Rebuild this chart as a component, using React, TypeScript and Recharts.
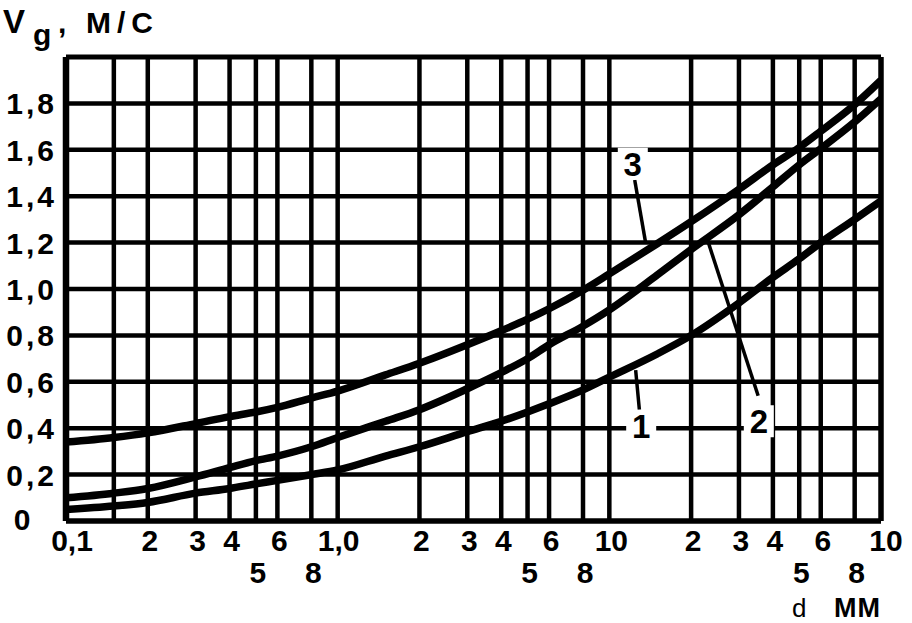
import React from "react";
import { LineChart, Line, XAxis, YAxis, ReferenceLine, ReferenceDot } from "recharts";

// d, мм (log axis) and the three curves V_g, м/с
const dValues = [0.1, 0.15, 0.2, 0.3, 0.4, 0.5, 0.6, 0.8, 1, 1.5, 2, 3, 4, 5, 6, 8, 10, 15, 20, 30, 40, 50, 60, 80, 100];
const curve1 = [0.05, 0.065, 0.08, 0.12, 0.14, 0.16, 0.175, 0.2, 0.22, 0.28, 0.32, 0.385, 0.43, 0.47, 0.505, 0.565, 0.62, 0.72, 0.8, 0.94, 1.05, 1.13, 1.2, 1.3, 1.38];
const curve2 = [0.1, 0.12, 0.14, 0.19, 0.23, 0.26, 0.28, 0.32, 0.36, 0.43, 0.48, 0.57, 0.64, 0.7, 0.76, 0.84, 0.91, 1.06, 1.17, 1.32, 1.44, 1.535, 1.605, 1.72, 1.82];
const curve3 = [0.34, 0.36, 0.38, 0.42, 0.45, 0.47, 0.49, 0.53, 0.56, 0.63, 0.68, 0.76, 0.82, 0.87, 0.915, 0.995, 1.065, 1.195, 1.29, 1.43, 1.535, 1.61, 1.68, 1.795, 1.9];

const xTicks = [0.1, 0.2, 0.3, 0.4, 0.5, 0.6, 0.8, 1, 2, 3, 4, 5, 6, 8, 10, 20, 30, 40, 50, 60, 80, 100];
const xLowRow = [0.5, 0.8, 5, 8, 50, 80];
const xGrid = [0.15, 0.2, 0.3, 0.4, 0.5, 0.6, 0.8, 1, 2, 3, 4, 5, 6, 8, 10, 20, 30, 40, 50, 60, 80];
const yTicks = [0, 0.2, 0.4, 0.6, 0.8, 1.0, 1.2, 1.4, 1.6, 1.8];
const yGrid = [0.2, 0.4, 0.6, 0.8, 1.0, 1.2, 1.4, 1.6, 1.8];

// curve labels and their leader lines
const curveLabels = [
  { text: "3", d: 12.2, v: 1.54 },
  { text: "1", d: 13.1, v: 0.41 },
  { text: "2", d: 35.5, v: 0.43 },
];
const leaders = [
  [{ x: 12.4, y: 1.47 }, { x: 13.6, y: 1.2 }],
  [{ x: 12.5, y: 0.65 }, { x: 12.9, y: 0.48 }],
  [{ x: 23, y: 1.21 }, { x: 35.3, y: 0.54 }],
];

const FONT = '"Liberation Sans", Arial, sans-serif';

const xLabel = (v: number) => {
  if (v === 0.1) return "0,1";
  if (v === 1) return "1,0";
  if (v === 10 || v === 100) return "10";
  return String(Math.round(v / Math.pow(10, Math.floor(Math.log10(v)))));
};

const XTick = (p: any) => {
  const v = p.payload.value;
  const low = xLowRow.includes(v);
  const dx = v === 0.1 ? 6 : v === 1 ? 1 : v === 100 ? 5 : 2;
  return (
    <text x={p.x + dx} y={low ? 583 : 551} textAnchor="middle" fontFamily={FONT} fontWeight={700} fontSize={30} fill="#000">
      {xLabel(v)}
    </text>
  );
};

const YTick = (p: any) => {
  const v = p.payload.value;
  if (v === 0) {
    return (
      <text x={22} y={p.y + 9} textAnchor="middle" fontFamily={FONT} fontWeight={700} fontSize={30} fill="#000">0</text>
    );
  }
  return (
    <text x={57} y={p.y + 11} textAnchor="end" fontFamily={FONT} fontWeight={700} fontSize={30} letterSpacing={3} fill="#000">
      {v.toFixed(1).replace(".", ",")}
    </text>
  );
};

export default function App() {
  const data = dValues.map((d, i) => ({ d, c1: curve1[i], c2: curve2[i], c3: curve3[i] }));

  return (
    <div style={{ position: "absolute", left: 0, top: 0, width: 912, height: 623, background: "#fff" }}>
      <LineChart width={912} height={623} data={data} margin={{ top: 57, right: 31, bottom: 22, left: 6 }}>
        <XAxis
          dataKey="d"
          type="number"
          scale="log"
          domain={[0.1, 100]}
          allowDataOverflow
          ticks={xTicks}
          interval={0}
          height={80}
          tick={XTick}
          tickLine={false}
          axisLine={{ stroke: "#000", strokeWidth: 5.5 }}
        />
        <YAxis
          type="number"
          domain={[0, 2]}
          ticks={yTicks}
          interval={0}
          width={60}
          tick={YTick}
          tickLine={false}
          axisLine={{ stroke: "#000", strokeWidth: 6.5 }}
        />
        {xGrid.map((v) => (
          <ReferenceLine key={"x" + v} x={v} stroke="#000" strokeWidth={4.5} />
        ))}
        {yGrid.map((v) => (
          <ReferenceLine key={"y" + v} y={v} stroke="#000" strokeWidth={4.5} />
        ))}
        <ReferenceLine x={100} stroke="#000" strokeWidth={5.5} />
        <ReferenceLine y={2} stroke="#000" strokeWidth={5} />

        <Line type="monotone" dataKey="c1" stroke="#000" strokeWidth={7.5} dot={false} isAnimationActive={false} />
        <Line type="monotone" dataKey="c2" stroke="#000" strokeWidth={7.5} dot={false} isAnimationActive={false} />
        <Line type="monotone" dataKey="c3" stroke="#000" strokeWidth={7.5} dot={false} isAnimationActive={false} />

        {leaders.map((seg, i) => (
          <ReferenceLine key={"l" + i} segment={seg} stroke="#000" strokeWidth={3.5} />
        ))}
        {curveLabels.map((l) => (
          <ReferenceDot
            key={"c" + l.text}
            x={l.d}
            y={l.v}
            r={0}
            shape={(p: any) => (
              <g>
                <rect x={p.cx - 15} y={p.cy - 16} width={30} height={32} fill="#fff" />
                <text x={p.cx} y={p.cy + 12} textAnchor="middle" fontFamily={FONT} fontWeight={700} fontSize={33} fill="#000">
                  {l.text}
                </text>
              </g>
            )}
          />
        ))}
      </LineChart>

      <svg width={912} height={623} style={{ position: "absolute", left: 0, top: 0, pointerEvents: "none" }}>
        <g fontFamily={FONT} fontWeight={700} fill="#000">
          <text x={3} y={33} fontSize={33}>V</text>
          <text x={33} y={45} fontSize={30}>g</text>
          <text x={58} y={33} fontSize={30}>,</text>
          <text x={86} y={33} fontSize={30} letterSpacing={6}>М/С</text>
          <text x={792} y={617} fontSize={26} fontWeight={400}>d</text>
          <text x={834} y={617} fontSize={27} letterSpacing={1}>ММ</text>
        </g>
      </svg>
    </div>
  );
}
